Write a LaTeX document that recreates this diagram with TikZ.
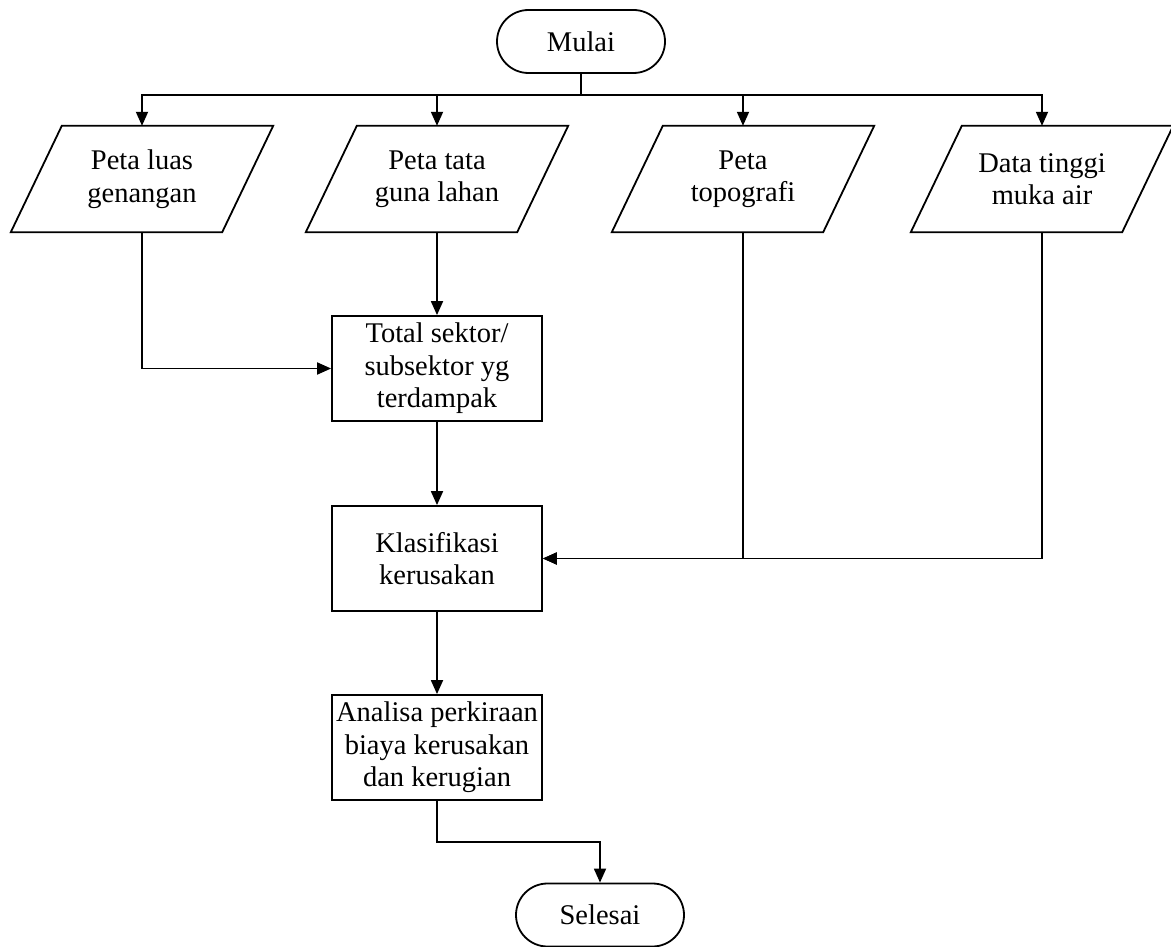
\documentclass[tikz,border=0pt]{standalone}
\usepackage{fontspec}
\setmainfont{Liberation Serif}
\usetikzlibrary{shapes.misc,arrows.meta,calc}
\begin{document}
\begin{tikzpicture}[x=1pt,y=-1pt,
  every node/.style={font=\fontsize{28.5}{32.5}\selectfont, align=center, inner sep=0pt},
  conn/.style={line width=1.8pt},
  arr/.style={line width=1.8pt, -{Triangle[length=14pt,width=12pt]}},
  term/.style={draw, line width=1.8pt, rounded rectangle, minimum width=168pt, minimum height=63pt},
  iobox/.style={minimum width=262pt, minimum height=106pt},
  proc/.style={draw, line width=1.8pt, minimum width=210pt, minimum height=105pt}]
\useasboundingbox (0,0) rectangle (1171,947);

\node[term] (start) at (581,41.5) {Mulai};
\coordinate (j) at (581,95);

\node[iobox] (p1) at (142,179) {Peta luas\\genangan};
\node[iobox] (p2) at (437,179) {Peta tata\\guna lahan};
\node[iobox] (p3) at (743,179) {Peta\\topografi};
\node[iobox] (p4) at (1042,179) {Data tinggi\\muka air};
\foreach \p in {p1,p2,p3,p4}
  \draw[conn] ($(\p.north west)+(51,0)$) -- (\p.north east) -- ($(\p.south east)+(-51,0)$) -- (\p.south west) -- cycle;

\node[proc] (b1) at (437,368.5) {Total sektor/\\subsektor yg\\terdampak};
\node[proc] (b2) at (437,558.5) {Klasifikasi\\kerusakan};
\node[proc] (b3) at (437,747.5) {Analisa perkiraan\\biaya kerusakan\\dan kerugian};
\node[term] (end) at (600,915) {Selesai};
\coordinate (k) at (437,842);

\draw[conn] (start.south) -- (j);
\draw[arr] (j) -| (p1.north);
\draw[arr] (j) -| (p2.north);
\draw[arr] (j) -| (p3.north);
\draw[arr] (j) -| (p4.north);
\draw[arr] (p1.south) |- (b1.west);
\draw[arr] (p2.south) -- (b1.north);
\draw[arr] (b1.south) -- (b2.north);
\draw[arr] (p3.south) |- (b2.east);
\draw[arr] (p4.south) |- (b2.east);
\draw[arr] (b2.south) -- (b3.north);
\draw[arr] (b3.south) -- (k) -| (end.north);
\end{tikzpicture}
\end{document}
